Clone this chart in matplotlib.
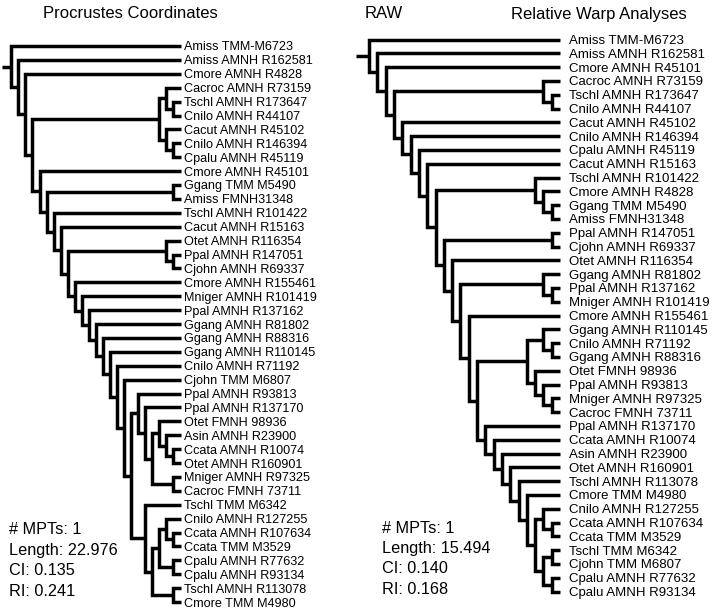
import matplotlib.pyplot as plt

plt.rcParams['font.family'] = ['Liberation Sans', 'DejaVu Sans']

# leaf labels, top to bottom
left_labels = [
    'Amiss TMM-M6723', 'Amiss AMNH R162581', 'Cmore AMNH R4828', 'Cacroc AMNH R73159',
    'Tschl AMNH R173647', 'Cnilo AMNH R44107', 'Cacut AMNH R45102', 'Cnilo AMNH R146394',
    'Cpalu AMNH R45119', 'Cmore AMNH R45101', 'Ggang TMM M5490', 'Amiss FMNH31348',
    'Tschl AMNH R101422', 'Cacut AMNH R15163', 'Otet AMNH R116354', 'Ppal AMNH R147051',
    'Cjohn AMNH R69337', 'Cmore AMNH R155461', 'Mniger AMNH R101419', 'Ppal AMNH R137162',
    'Ggang AMNH R81802', 'Ggang AMNH R88316', 'Ggang AMNH R110145', 'Cnilo AMNH R71192',
    'Cjohn TMM M6807', 'Ppal AMNH R93813', 'Ppal AMNH R137170', 'Otet FMNH 98936',
    'Asin AMNH R23900', 'Ccata AMNH R10074', 'Otet AMNH R160901', 'Mniger AMNH R97325',
    'Cacroc FMNH 73711', 'Tschl TMM M6342', 'Cnilo AMNH R127255', 'Ccata AMNH R107634',
    'Ccata TMM M3529', 'Cpalu AMNH R77632', 'Cpalu AMNH R93134', 'Tschl AMNH R113078',
    'Cmore TMM M4980',
]
right_labels = [
    'Amiss TMM-M6723', 'Amiss AMNH R162581', 'Cmore AMNH R45101', 'Cacroc AMNH R73159',
    'Tschl AMNH R173647', 'Cnilo AMNH R44107', 'Cacut AMNH R45102', 'Cnilo AMNH R146394',
    'Cpalu AMNH R45119', 'Cacut AMNH R15163', 'Tschl AMNH R101422', 'Cmore AMNH R4828',
    'Ggang TMM M5490', 'Amiss FMNH31348', 'Ppal AMNH R147051', 'Cjohn AMNH R69337',
    'Otet AMNH R116354', 'Ggang AMNH R81802', 'Ppal AMNH R137162', 'Mniger AMNH R101419',
    'Cmore AMNH R155461', 'Ggang AMNH R110145', 'Cnilo AMNH R71192', 'Ggang AMNH R88316',
    'Otet FMNH 98936', 'Ppal AMNH R93813', 'Mniger AMNH R97325', 'Cacroc FMNH 73711',
    'Ppal AMNH R137170', 'Ccata AMNH R10074', 'Asin AMNH R23900', 'Otet AMNH R160901',
    'Tschl AMNH R113078', 'Cmore TMM M4980', 'Cnilo AMNH R127255', 'Ccata AMNH R107634',
    'Ccata TMM M3529', 'Tschl TMM M6342', 'Cjohn TMM M6807', 'Cpalu AMNH R77632',
    'Cpalu AMNH R93134',
]


def ladder(sides, end):
    # pectinate backbone: (s0, (s1, (s2, ... end)))
    for s in reversed(sides):
        end = (s, end)
    return end


# topologies as nested tuples of leaf indices
left_tree = ladder(
    [0, 1, 2, ((3, (4, 5)), (6, (7, 8))), 9, (10, 11), 12, 13, (14, (15, 16)),
     17, 18, 19, 20, 21, 22, 23, 24],
    ((25, (26, ((27, (28, (29, 30))), (31, 32)))),
     (33, (((34, (35, 36)), (37, 38)), (39, 40)))))

right_tree = ladder(
    [0, 1, 2, (3, (4, 5)), 6, 7, 8, 9, (10, (11, (12, 13))), (14, 15), 16,
     (17, (18, 19)), 20, ((21, (22, 23)), (24, (25, (26, 27)))),
     28, 29, 30, 31, 32, 33],
    ((34, (35, 36)), ((37, 38), (39, 40))))

left_stats = ['# MPTs: 1', 'Length: 22.976', 'CI: 0.135', 'RI: 0.241']
right_stats = ['# MPTs: 1', 'Length: 15.494', 'CI: 0.140', 'RI: 0.168']

W, H = 715, 610
LW = 2.5


def draw_node(ax, node):
    if isinstance(node, int):
        return node, 0
    pos = [draw_node(ax, c) for c in node]
    h = 1 + max(p[1] for p in pos)
    (y1, h1), (y2, h2) = pos[0], pos[-1]
    ax.plot([h1, h, h, h2], [y1, y1, y2, y2], color='black', lw=LW,
            solid_joinstyle='miter', solid_capstyle='butt')
    return (y1 + y2) / 2, h


def draw_tree(fig, tree, labels, tip_px, step, y0, dy, stub, pad, fs, name):
    ax = fig.add_axes([0, 0, 1, 1], label=name)
    ax.axis('off')
    ax.set_xlim(tip_px / step, (tip_px - W) / step)
    ax.set_ylim((H - y0) / dy, -y0 / dy)
    y, h = draw_node(ax, tree)
    ax.plot([h, h + stub], [y, y], color='black', lw=LW, solid_capstyle='butt')
    for i, lab in enumerate(labels):
        ax.annotate(lab, (0, i), xytext=(pad, 0), textcoords='offset pixels',
                    ha='left', va='center_baseline', fontsize=fs)
    return ax


fig = plt.figure(figsize=(W / 100, H / 100), dpi=100)
draw_tree(fig, left_tree, left_labels, 180.5, 7.05, 46, 13.9, 1.3, 4, 9.1, 'left')
draw_tree(fig, right_tree, right_labels, 560, 8.3, 39.5, 13.8, 1.57, 9, 9.5, 'right')

fig.text(130 / W, 1 - 14 / H, 'Procrustes Coordinates', ha='center', va='center', fontsize=12)
fig.text(384 / W, 1 - 14 / H, 'RAW', ha='center', va='center', fontsize=12)
fig.text(599 / W, 1 - 14 / H, 'Relative Warp Analyses', ha='center', va='center', fontsize=12)

for k, s in enumerate(left_stats):
    fig.text(9 / W, 1 - (528 + 20.5 * k) / H, s, ha='left', va='center_baseline', fontsize=11.7)
for k, s in enumerate(right_stats):
    fig.text(382 / W, 1 - (527 + 20.2 * k) / H, s, ha='left', va='center_baseline', fontsize=11.7)

fig.savefig('out.png', dpi=100)
